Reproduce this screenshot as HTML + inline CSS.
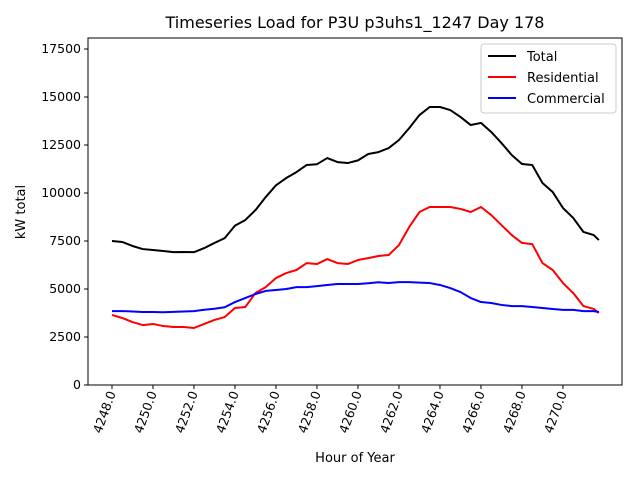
<!DOCTYPE html>
<html><head><meta charset="utf-8"><style>
body{margin:0;background:#fff;}
svg{font-family:"DejaVu Sans","Liberation Sans",sans-serif;}
</style></head><body>
<svg id="chart" width="640" height="480">
<rect width="640" height="480" fill="#fff"/>
<text x="355" y="28" font-size="16" text-anchor="middle">Timeseries Load for P3U p3uhs1_1247  Day 178</text>
<g id="plot"></g>
<rect x="88" y="38" width="534" height="347" fill="none" stroke="#000" stroke-width="1"/>
<text x="355" y="462" font-size="13" text-anchor="middle">Hour of Year</text>
<text transform="translate(25,212) rotate(-90)" font-size="13" text-anchor="middle">kW total</text>
<g>
<rect x="481" y="44" width="135" height="69" rx="3" fill="#fff" stroke="#ccc"/>
<line x1="488" y1="56" x2="516" y2="56" stroke="#000" stroke-width="2"/>
<text x="527" y="61" font-size="13">Total</text>
<line x1="488" y1="77" x2="516" y2="77" stroke="red" stroke-width="2"/>
<text x="527" y="82" font-size="13">Residential</text>
<line x1="488" y1="98" x2="516" y2="98" stroke="blue" stroke-width="2"/>
<text x="527" y="103" font-size="13">Commercial</text>
</g>
</svg>
<script>
const hours = [4248,4248.5,4249,4249.5,4250,4250.5,4251,4251.5,4252,4252.5,4253,4253.5,4254,4254.5,4255,4255.5,4256,4256.5,4257,4257.5,4258,4258.5,4259,4259.5,4260,4260.5,4261,4261.5,4262,4262.5,4263,4263.5,4264,4264.5,4265,4265.5,4266,4266.5,4267,4267.5,4268,4268.5,4269,4269.5,4270,4270.5,4271,4271.5,4271.75];
const total = [7500,7450,7240,7080,7030,6980,6920,6930,6920,7130,7400,7650,8300,8590,9110,9790,10400,10780,11090,11460,11500,11820,11610,11560,11700,12030,12130,12340,12760,13380,14060,14480,14480,14320,13960,13540,13650,13180,12600,11980,11510,11460,10520,10050,9220,8700,7970,7810,7550];
const residential = [3650,3490,3280,3120,3180,3070,3020,3020,2970,3180,3390,3540,4010,4060,4790,5100,5570,5830,5990,6350,6300,6560,6350,6300,6510,6610,6720,6770,7290,8230,9010,9270,9270,9270,9170,9010,9270,8850,8330,7810,7400,7340,6350,5990,5310,4790,4110,3960,3750];
const commercial = [3850,3850,3830,3800,3800,3790,3810,3830,3850,3920,3970,4050,4320,4530,4740,4900,4950,5000,5100,5100,5150,5210,5260,5260,5260,5300,5350,5310,5360,5360,5330,5310,5210,5050,4840,4530,4320,4270,4170,4110,4110,4060,4010,3960,3910,3910,3850,3850,3800];
const yTicks = [0,2500,5000,7500,10000,12500,15000,17500];
const xTicks = [4248,4250,4252,4254,4256,4258,4260,4262,4264,4266,4268,4270];

const NS="http://www.w3.org/2000/svg";
const X0=88,X1=622,Y0=385,Y1=38;
const xMin=4246.83,xMax=4272.88,yMin=0,yMax=18073;
const sx=v=>X0+(v-xMin)/(xMax-xMin)*(X1-X0);
const sy=v=>Y0-(v-yMin)/(yMax-yMin)*(Y0-Y1);
const g=document.getElementById('plot');
function mk(t,a){const e=document.createElementNS(NS,t);for(const k in a)e.setAttribute(k,a[k]);g.appendChild(e);return e;}
yTicks.forEach(v=>{
  const y=sy(v);
  const l=mk('line',{x1:X0-4,x2:X0,y1:y,y2:y,stroke:'#000'});
  
  
  const t=mk('text',{x:X0-7,y:y+4,'font-size':12.5,'text-anchor':'end'});
  t.textContent=v;
  
  
});
xTicks.forEach(v=>{
  const x=sx(v);
  const l=mk('line',{x1:x,x2:x,y1:Y0,y2:Y0+4,stroke:'#000'});
  
  
  const t=mk('text',{transform:`translate(${x+4},${Y0+8}) rotate(-70)`,'font-size':12.5,'text-anchor':'end'});
  t.textContent=v.toFixed(1);
  
  
});
[[total,'#000','total-line'],[residential,'red','residential-line'],[commercial,'blue','commercial-line']].forEach(([d,c,n])=>{
  const p=mk('polyline',{points:d.map((v,i)=>sx(hours[i])+','+sy(v)).join(' '),fill:'none',stroke:c,'stroke-width':2,'stroke-linejoin':'round'});
  
  
});
</script>
</body></html>
